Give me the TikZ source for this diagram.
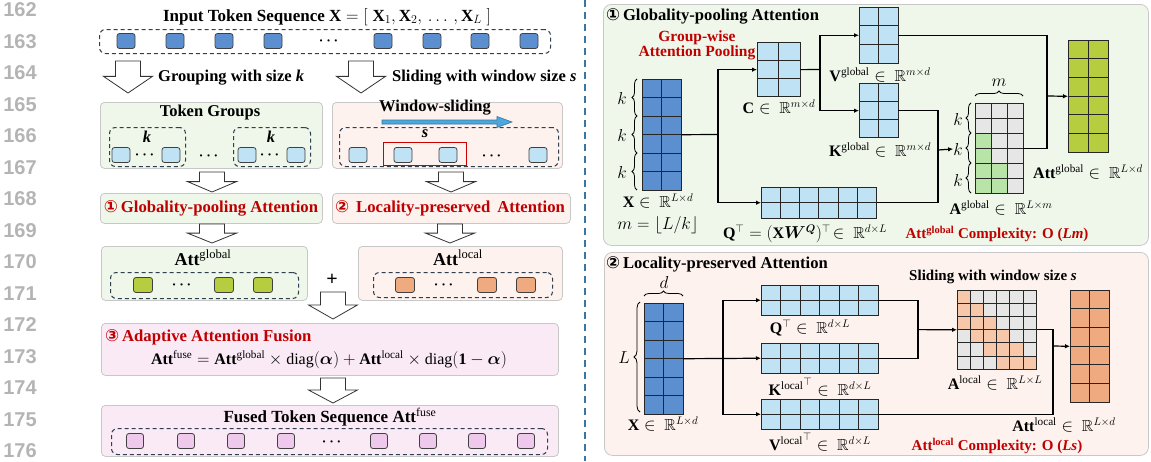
\documentclass[tikz,border=0pt]{standalone}
\usepackage{amsmath,amssymb,bm}
\usepackage{fontspec}
\setmainfont{Liberation Serif}
\newfontfamily\lnfont{Liberation Sans}
\newfontfamily\symfont{DejaVu Sans}
\usetikzlibrary{arrows.meta,calc,decorations.pathreplacing}

\definecolor{dblue}{HTML}{5B8FD0}
\definecolor{lblue}{HTML}{BFE2F4}
\definecolor{tgreen}{HTML}{B5CD3E}
\definecolor{torange}{HTML}{F0AA80}
\definecolor{tpink}{HTML}{EFC9EC}
\definecolor{bggreen}{HTML}{EFF7EA}
\definecolor{bgpink}{HTML}{FDF2EE}
\definecolor{bgfuse}{HTML}{FAEAF6}
\definecolor{myred}{HTML}{C00000}
\definecolor{agray}{HTML}{E6E6E6}
\definecolor{agreen}{HTML}{B8E4A8}
\definecolor{aorange}{HTML}{F7C7AA}
\definecolor{sepblue}{HTML}{3B76A2}
\definecolor{lngray}{HTML}{B4B4B4}
\definecolor{dashc}{HTML}{2F3F4F}
\definecolor{boxline}{HTML}{C8C8C8}
\definecolor{slideblue}{HTML}{4AA8DC}

\newcommand\bx[6]{\node[#6, anchor=north west, inner sep=0pt, minimum width={(#4)-(#2)}, minimum height={(#5)-(#3)}] (#1) at (#2,#3) {};}
\newcommand\mgrid[8]{%
  \node[inner sep=0pt, anchor=north west, minimum width={#4*#6}, minimum height={#5*#7}] (#1) at (#2,#3) {};
  \foreach \ci in {1,...,#4}{\foreach \ri in {1,...,#5}{
    \draw[matline, fill=#8] ({#2+(\ci-1)*#6},{#3+(\ri-1)*#7}) rectangle ++(#6,#7);}}%
}
\newcommand\cellfill[7]{% x y cw ch col row color
  \draw[matline, fill=#7] ({#1+(#5-1)*#3},{#2+(#6-1)*#4}) rectangle ++(#3,#4);}
\newcommand\barr[3]{% x, ytop, ybot
  \draw[barrow] ({#1-12.5},#2) -- ({#1+12.5},#2) -- ({#1+12.5},{#2+0.48*(#3-#2)}) -- ({#1+24.5},{#2+0.48*(#3-#2)}) -- (#1,#3) -- ({#1-24.5},{#2+0.48*(#3-#2)}) -- ({#1-12.5},{#2+0.48*(#3-#2)}) -- cycle;}

\tikzset{
  panel/.style={draw=boxline, line width=0.8pt, rounded corners=4pt},
  dbox/.style={draw=dashc, dash pattern=on 4pt off 3pt, line width=1pt, rounded corners=6pt},
  tok/.style={draw=black!75, line width=0.8pt, rounded corners=2.5pt, minimum width=18pt, minimum height=15pt, inner sep=0pt},
  btxt/.style={font=\fontsize{16.5}{18}\selectfont\bfseries, inner sep=0pt},
  rtxt/.style={font=\fontsize{16.7}{18}\selectfont\bfseries, text=myred, inner sep=0pt},
  ttxt/.style={font=\fontsize{16.6}{18}\selectfont\bfseries, inner sep=0pt},
  barrow/.style={draw=black!80, line width=0.8pt, fill=white},
  conn/.style={line width=1.2pt, draw=black},
  arr/.style={conn, -{Latex[length=5pt,width=4.5pt]}},
  matline/.style={draw=black!85, line width=0.9pt},
  lbl/.style={font=\fontsize{16}{18}\selectfont, inner sep=0pt},
  hlbl/.style={font=\fontsize{18}{20}\selectfont, inner sep=0pt},
  klbl/.style={font=\fontsize{16}{18}\selectfont, inner sep=0pt},
  dts/.style={font=\fontsize{15}{17}\selectfont, inner sep=0pt},
  brc/.style={decorate, decoration={brace, amplitude=5pt}, line width=0.8pt},
  lnum/.style={font=\lnfont\fontsize{20}{22}\selectfont\bfseries, text=lngray, inner sep=0pt}
}

\begin{document}
\begin{tikzpicture}[x=1pt,y=-1pt]
\useasboundingbox (0,0) rectangle (1151,461);

% line numbers
\foreach \n [count=\i from 0] in {162,...,176} \node[lnum] (ln\n) at (20,{10+31.5*\i}) {\n};

% ================= LEFT PANEL =================
\node[btxt, font=\fontsize{17}{19}\selectfont\bfseries] (intitle) at (327,17) {Input Token Sequence $\mathbf{X}=[\;\mathbf{X}_1,\mathbf{X}_2,\,\ldots\,,\mathbf{X}_L\;]$};
\bx{inbox}{99}{29}{550}{53}{dbox}
\foreach \x [count=\i] in {126,175,224,273,383,432,480,529} \node[tok, fill=dblue] (in\i) at (\x,41) {};
\node[dts] (indots) at (330,41) {$\boldsymbol{\cdots}$};

\barr{128}{61}{93}
\barr{361}{61}{93}
\node[btxt, anchor=west] (grp) at (158,78) {Grouping with size \textit{k}};
\node[btxt, anchor=west] (sld) at (392,78) {Sliding with window size \textit{s}};

% token groups
\bx{tg}{100}{102}{322}{168}{panel, fill=bggreen}
\node[btxt] (tgt) at (210,113) {Token Groups};
\bx{g1}{109}{127}{185}{166}{dbox}
\bx{g2}{233}{127}{310}{166}{dbox}
\node[btxt] (k1) at (147,137) {\textit{k}};
\node[btxt] (k2) at (271,137) {\textit{k}};
\foreach \x [count=\i] in {121,171,247,296} \node[tok, fill=lblue] (tg\i) at (\x,155) {};
\node[dts] (tgd1) at (146,155) {$\boldsymbol{\cdots}$};
\node[dts] (tgd2) at (210,156) {$\boldsymbol{\cdots}$};
\node[dts] (tgd3) at (271,155) {$\boldsymbol{\cdots}$};

% window sliding
\bx{ws}{332}{102}{562}{168}{panel, fill=bgpink}
\node[btxt] (wst) at (435,108) {Window-sliding};
\draw[fill=slideblue, draw=sepblue, line width=0.6pt] (382,120) -- (497,120) -- (497,116.5) -- (512,122) -- (497,127.5) -- (497,124) -- (382,124) -- cycle;
\bx{wd}{339}{127}{558}{166}{dbox}
\node[btxt] (sl) at (425,134) {\textit{s}};
\bx{win}{383}{142}{466}{165}{draw=red!80!black, line width=1.2pt}
\foreach \x [count=\i] in {358,403,448,538} \node[tok, fill=lblue] (w\i) at (\x,155) {};
\node[dts] (wdots) at (493,156) {$\boldsymbol{\cdots}$};

\barr{212}{172}{192}
\barr{451}{172}{192}

\bx{gp}{100}{193}{322}{223}{panel, fill=bggreen}
\node[rtxt] (gpt) at (211,208) {{\symfont ①}\,Globality-pooling Attention};
\bx{lp}{332}{193}{570}{223}{panel, fill=bgpink}
\node[rtxt] (lpt) at (450,208) {{\symfont ②}\ \,Locality-preserved\ \,Attention};

\barr{212}{224}{243}
\barr{450}{224}{243}

\bx{ag}{101}{246}{307}{300}{panel, fill=bggreen}
\node[hlbl] (agt) at (203,258) {$\mathbf{Att}^{\mathrm{global}}$};
\bx{agd}{110}{272}{298}{298}{dbox}
\foreach \x [count=\i] in {143,224,263} \node[tok, fill=tgreen, minimum width=19pt] (ag\i) at (\x,285) {};
\node[dts] (agdots) at (183,285) {$\boldsymbol{\cdots}$};

\bx{al}{358}{246}{562}{300}{panel, fill=bgpink}
\node[hlbl] (alt) at (458,258) {$\mathbf{Att}^{\mathrm{local}}$};
\bx{ald}{373}{272}{552}{297}{dbox}
\foreach \x [count=\i] in {405,487,526} \node[tok, fill=torange, minimum width=19pt] (al\i) at (\x,285) {};
\node[dts] (aldots) at (445,285) {$\boldsymbol{\cdots}$};

\node[font=\fontsize{20}{22}\selectfont\bfseries, inner sep=0pt] (plus) at (332,280) {+};
\barr{333}{292}{319}

\bx{fu}{101}{323}{558}{375}{panel, fill=bgfuse}
\node[rtxt, anchor=west] (fut) at (105,337) {{\symfont ③}\,Adaptive Attention Fusion};
\node[lbl] (fuf) at (329,360) {$\mathbf{Att}^{\mathrm{fuse}}=\mathbf{Att}^{\mathrm{global}}\times\mathrm{diag}(\boldsymbol{\alpha})+\mathbf{Att}^{\mathrm{local}}\times\mathrm{diag}(\mathbf{1}-\boldsymbol{\alpha})$};

\barr{333}{378}{403}

\bx{fs}{101}{405}{558}{456}{panel, fill=bgfuse}
\node[btxt, font=\fontsize{17}{19}\selectfont\bfseries] (fst) at (330,417) {Fused Token Sequence $\mathbf{Att}^{\mathrm{fuse}}$};
\bx{fsd}{111}{428}{547}{454}{dbox}
\foreach \x [count=\i] in {135,186,236,286,379,428,477,526} \node[tok, fill=tpink, minimum width=17pt] (fs\i) at (\x,441) {};
\node[dts] (fsdots) at (333,442) {$\boldsymbol{\cdots}$};

% separator
\draw[sepblue, line width=1.6pt, dash pattern=on 7pt off 5pt] (585,0) -- (585,461);

% ================= RIGHT TOP =================
\bx{gbox}{603}{4}{1148}{245}{panel, fill=bggreen, rounded corners=8pt}
\node[ttxt, anchor=west] (gtitle) at (606,16) {{\symfont ①}\,Globality-pooling Attention};
\node[rtxt, font=\fontsize{15.5}{15}\selectfont\bfseries, align=center] (gwp) at (697,45) {Group-wise\\Attention Pooling};

\mgrid{gX}{642}{79}{2}{6}{19.5}{18.5}{dblue}
\foreach \a/\b/\c in {116/79/98,153/116/135,190/153/172}{
  \draw[brc] (637,\a) -- (637,\b);
  \node[klbl] at (622,\c) {$k$};
}
\node[lbl] (gXl) at (658,201) {$\mathbf{X}\in\ \mathbb{R}^{L\times d}$};
\node[lbl] (gml) at (658,225) {$m=\lfloor L/k\rfloor$};

\mgrid{gC}{757}{42}{2}{3}{21.5}{18.3}{lblue}
\node[lbl] (gCl) at (779,107) {$\mathbf{C}\in\ \mathbb{R}^{m\times d}$};
\mgrid{gV}{859}{7}{2}{3}{19.5}{18.7}{lblue}
\node[lbl] (gVl) at (880,75) {$\mathbf{V}^{\mathrm{global}}\in\ \mathbb{R}^{m\times d}$};
\mgrid{gK}{859}{83}{2}{3}{19.5}{18.3}{lblue}
\node[lbl] (gKl) at (880,150) {$\mathbf{K}^{\mathrm{global}}\in\ \mathbb{R}^{m\times d}$};
\mgrid{gQ}{761}{187}{6}{2}{19.3}{15.5}{lblue}
\node[lbl] (gQl) at (805,234) {$\mathbf{Q}^{\top}=(\mathbf{X}\boldsymbol{W}^{\boldsymbol{Q}})^{\top}\!\in\ \mathbb{R}^{d\times L}$};

\mgrid{gA}{975}{103}{3}{6}{16}{15}{agray}
\foreach \c/\r in {1/3,1/4,1/5,2/5,1/6,2/6}{\cellfill{975}{103}{16}{15}{\c}{\r}{agreen}}
\node[klbl] (kA1) at (958,119) {$k$};
\node[klbl] (kA2) at (958,149) {$k$};
\node[klbl] (kA3) at (958,180) {$k$};
\draw[brc] (971,133) -- (971,103);
\draw[brc] (971,163) -- (971,133);
\draw[brc] (971,193) -- (971,163);
\draw[brc] (975,96) -- (1023,96);
\node[klbl] (mA) at (999,83) {$m$};
\node[lbl] (gAl) at (1001,208) {$\mathbf{A}^{\mathrm{global}}\in\ \mathbb{R}^{L\times m}$};

\mgrid{gAtt}{1068}{40}{2}{6}{20}{18.7}{tgreen}
\node[lbl] (gAttl) at (1088,172) {$\mathbf{Att}^{\mathrm{global}}\in\ \mathbb{R}^{L\times d}$};
\node[rtxt, font=\fontsize{15}{17}\selectfont\bfseries] (gcx) at (997,234) {Att\textsuperscript{global} Complexity: O (\textit{Lm})};

% connectors top
\coordinate (j1) at (718,134.5);
\draw[conn] (gX.east) -- (j1);
\draw[arr] (j1) |- (gC.west);
\draw[arr] (j1) |- (gQ.west);
\coordinate (j2) at (820,69.5);
\draw[conn] (gC.east) -- (j2);
\draw[arr] (j2) |- (gV.west);
\draw[arr] (j2) |- (gK.west);
\coordinate (j3) at (938,150);
\draw[conn] (gK.east) -| (j3);
\draw[conn] (gQ.east) -| (j3);
\draw[arr] (j3) -- (kA2.west);
\coordinate (j4) at (1047,96);
\draw[conn] (gV.east) -| (j4);
\draw[conn] (gA.east) -| (j4);
\draw[arr] (j4) -- (gAtt.west);

% ================= RIGHT BOTTOM =================
\bx{lbox}{604}{252}{1148}{455}{panel, fill=bgpink, rounded corners=8pt}
\node[ttxt, anchor=west] (ltitle) at (606,264) {{\symfont ②}\,Locality-preserved Attention};

\mgrid{lX}{644}{303}{2}{6}{19.5}{18.5}{dblue}
\draw[brc] (644,296) -- (683,296);
\node[klbl] (ld) at (664,282) {$d$};
\draw[brc, decoration={brace, amplitude=6pt}] (640,412) -- (640,302);
\node[klbl] (lL) at (624,358) {$L$};
\node[lbl] (lXl) at (663,424) {$\mathbf{X}\in\ \mathbb{R}^{L\times d}$};

\mgrid{lQ}{761}{285}{6}{2}{19.5}{15}{lblue}
\node[lbl] (lQl) at (810,328) {$\mathbf{Q}^{\top}\in\ \mathbb{R}^{d\times L}$};
\mgrid{lK}{761}{343}{6}{2}{19.5}{15}{lblue}
\node[lbl] (lKl) at (820,387) {${\mathbf{K}^{\mathrm{local}}}^{\top}\in\ \mathbb{R}^{d\times L}$};
\mgrid{lV}{761}{399}{6}{2}{19.5}{15}{lblue}
\node[lbl] (lVl) at (820,442) {${\mathbf{V}^{\mathrm{local}}}^{\top}\in\ \mathbb{R}^{d\times L}$};

\coordinate (m1) at (723,358.5);
\draw[conn] (lX.east) -- (m1);
\draw[arr] (m1) |- (lQ.west);
\draw[arr] (m1) -- (lK.west);
\draw[arr] (m1) |- (lV.west);

\node[btxt, font=\fontsize{15}{17}\selectfont\bfseries] (lsl) at (993,277) {Sliding with window size \textit{s}};
\mgrid{lA}{957}{290}{6}{6}{13.2}{13.2}{agray}
\foreach \c/\r in {1/1,1/2,2/2,1/3,2/3,3/3,2/4,3/4,4/4,3/5,4/5,5/5,4/6,5/6,6/6}{\cellfill{957}{290}{13.2}{13.2}{\c}{\r}{aorange}}
\node[lbl] (lAl) at (995,383) {$\mathbf{A}^{\mathrm{local}}\in\ \mathbb{R}^{L\times L}$};

\mgrid{lAtt}{1070}{290}{2}{6}{19.5}{18.7}{torange}
\node[lbl] (lAttl) at (1064,425) {$\mathbf{Att}^{\mathrm{local}}\in\ \mathbb{R}^{L\times d}$};
\node[rtxt, font=\fontsize{15}{17}\selectfont\bfseries] (lcx) at (997,446) {Att\textsuperscript{local} Complexity: O (\textit{Ls})};

\coordinate (m2) at (918,329.6);
\draw[conn] (lQ.east) -| (m2);
\draw[conn] (lK.east) -| (m2);
\draw[arr] (m2) -- (lA.west);
\coordinate (m3) at (1053,346);
\draw[conn] (lA.east) -| (m3);
\draw[conn] (lV.east) -| (m3);
\draw[arr] (m3) -- (lAtt.west);

\end{tikzpicture}
\end{document}
